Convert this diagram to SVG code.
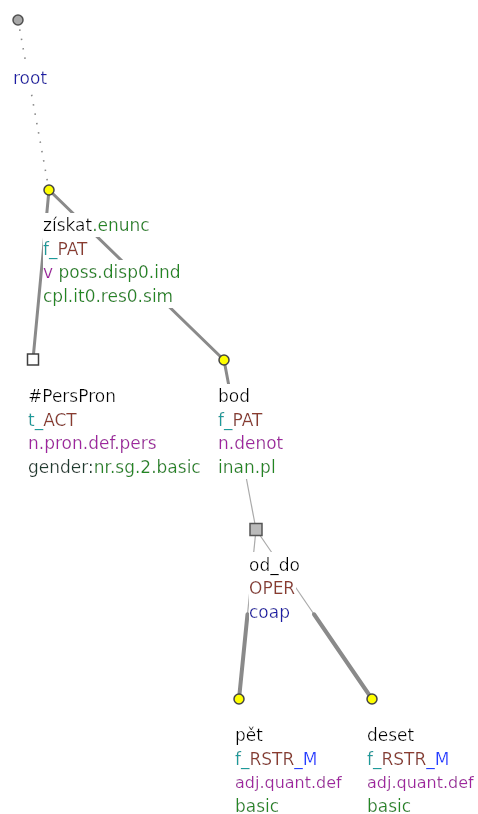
<svg xmlns="http://www.w3.org/2000/svg" width="478" height="814" viewBox="0 0 478 814">
<style>
text{font-family:"DejaVu Sans","Liberation Sans",sans-serif;font-size:17px;filter:url(#bg)}
.sm{font-size:16px}
.k{fill:#000}
.g{fill:#228822}
.t{fill:#1a9a9a}
.b{fill:#8b3a2e}
.p{fill:#a020a0}
.nb{fill:#1c1ca8}
.bl{fill:#2040ff}
.dk{fill:#1f3b2f}
.thick{stroke:#8a8a8a;stroke-width:3;stroke-linecap:round;fill:none}
.thicker{stroke:#8a8a8a;stroke-width:4;stroke-linecap:round;fill:none}
.thin{stroke:#aaaaaa;stroke-width:1.2;fill:none}
.dot{stroke:#888;stroke-width:1.6;stroke-dasharray:1.5 8;fill:none}
.yel{fill:#ffff00;stroke:#444;stroke-width:1.5}
</style>
<defs>
<filter id="bg" x="0" y="-0.08" width="1" height="1.16">
<feFlood flood-color="#ffffff" result="f"/>
<feMerge><feMergeNode in="f"/><feMergeNode in="SourceGraphic"/></feMerge>
</filter>
</defs>
<rect width="478" height="814" fill="#fff"/>
<g id="connectors">
<line class="dot" x1="18" y1="20" x2="49" y2="190"/>
<line class="thick" x1="49" y1="190" x2="33" y2="359.5"/>
<line class="thick" x1="49" y1="190" x2="224" y2="360"/>
<line class="thick" x1="224" y1="360" x2="240" y2="444.75"/>
<line class="thin" x1="240" y1="444.75" x2="256" y2="529.5"/>
<line class="thin" x1="256" y1="529.5" x2="247.5" y2="614.25"/>
<line class="thicker" x1="247.5" y1="614.25" x2="239" y2="699"/>
<line class="thin" x1="256" y1="529.5" x2="314" y2="614.25"/>
<line class="thicker" x1="314" y1="614.25" x2="372" y2="699"/>
</g>
<g id="root">
<circle cx="18" cy="20" r="5" fill="#a8a8a8" stroke="#505050" stroke-width="1.5"/>
<text x="13" y="84" class="nb">root</text>
</g>
<g id="ziskat">
<circle class="yel" cx="49" cy="190" r="5"/>
<text x="43" y="231"><tspan class="k">získat</tspan><tspan class="g">.enunc</tspan></text>
<text x="43" y="254.5"><tspan class="t">f_</tspan><tspan class="b">PAT</tspan></text>
<text x="43" y="278"><tspan class="p">v</tspan><tspan class="g"> poss.disp0.ind</tspan></text>
<text x="43" y="301.5" class="g">cpl.it0.res0.sim</text>
</g>
<g id="perspron">
<rect x="27.5" y="354" width="11" height="11" fill="#fff" stroke="#404040" stroke-width="1.5"/>
<text x="28" y="402" class="k">#PersPron</text>
<text x="28" y="425.5"><tspan class="t">t_</tspan><tspan class="b">ACT</tspan></text>
<text x="28" y="449" class="p">n.pron.def.pers</text>
<text x="28" y="472.5"><tspan class="dk">gender:</tspan><tspan class="g">nr.sg.2.basic</tspan></text>
</g>
<g id="bod">
<circle class="yel" cx="224" cy="360" r="5"/>
<text x="218" y="402" class="k">bod</text>
<text x="218" y="425.5"><tspan class="t">f_</tspan><tspan class="b">PAT</tspan></text>
<text x="218" y="449" class="p">n.denot</text>
<text x="218" y="472.5" class="g">inan.pl</text>
</g>
<g id="od_do">
<rect x="250" y="523.5" width="12" height="12" fill="#bbbbbb" stroke="#555" stroke-width="1.5"/>
<text x="249" y="570.5" class="k">od_do</text>
<text x="249" y="594" class="b">OPER</text>
<text x="249" y="617.5" class="nb">coap</text>
</g>
<g id="pet">
<circle class="yel" cx="239" cy="699" r="5"/>
<text x="235" y="741" class="k">pět</text>
<text x="235" y="764.5"><tspan class="t">f_</tspan><tspan class="b">RSTR</tspan><tspan class="bl">_M</tspan></text>
<text x="235" y="788" class="p sm">adj.quant.def</text>
<text x="235" y="811.5" class="g">basic</text>
</g>
<g id="deset">
<circle class="yel" cx="372" cy="699" r="5"/>
<text x="367" y="741" class="k">deset</text>
<text x="367" y="764.5"><tspan class="t">f_</tspan><tspan class="b">RSTR</tspan><tspan class="bl">_M</tspan></text>
<text x="367" y="788" class="p sm">adj.quant.def</text>
<text x="367" y="811.5" class="g">basic</text>
</g>
</svg>
